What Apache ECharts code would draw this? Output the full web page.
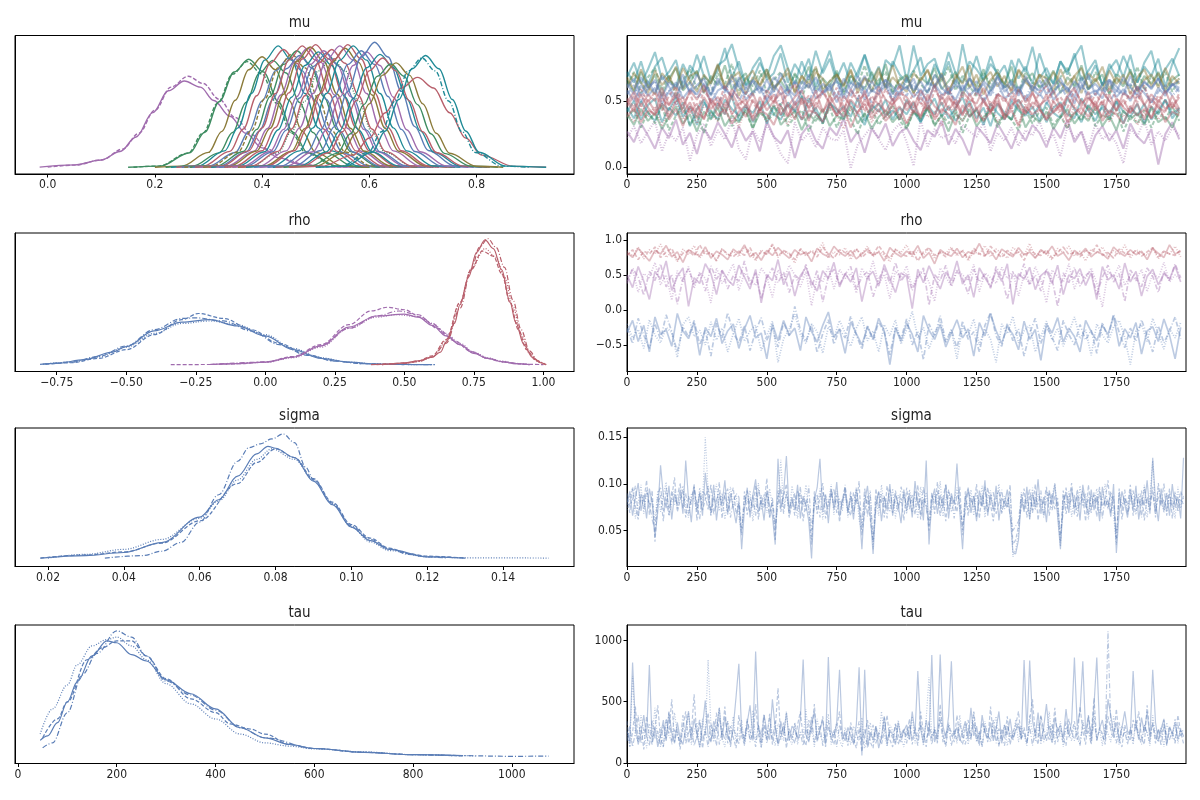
<!DOCTYPE html>
<html>
<head>
<meta charset="utf-8">
<title>trace plot</title>
<script src="https://cdn.jsdelivr.net/npm/echarts@6/dist/echarts.min.js"></script>
<style>
  html, body { margin: 0; padding: 0; background: #fff; }
  #chart { width: 1200px; height: 800px; }
</style>
</head>
<body>
<div id="chart"></div>
<script>
// ---- panel titles / ticks ----
const varNames = ['mu', 'rho', 'sigma', 'tau'];
const drawTicks = [0, 250, 500, 750, 1000, 1250, 1500, 1750];
const muKdeTicks = [0, 0.2, 0.4, 0.6, 0.8];
const rhoKdeTicks = [-0.75, -0.5, -0.25, 0, 0.25, 0.5, 0.75, 1];
const sigmaKdeTicks = [0.02, 0.04, 0.06, 0.08, 0.1, 0.12, 0.14];
const tauKdeTicks = [0, 200, 400, 600, 800, 1000];
const muTraceTicks = [0, 0.5];
const rhoTraceTicks = [-0.5, 0, 0.5, 1];
const sigmaTraceTicks = [0.05, 0.1, 0.15];
const tauTraceTicks = [0, 500, 1000];

// ---- mu: density curves, one per mu[i] ([x, density]) ----
const muKdeCurves = [
  [[-0.015,0.02],[0.05,0.2],[0.1,0.6],[0.135,1.3],[0.165,2.5],[0.196,4.5],[0.225,6.3],[0.255,7.1],[0.285,6.6],[0.31,5.5],[0.34,4.2],[0.37,2.8],[0.4,1.6],[0.43,0.8],[0.47,0.25],[0.52,0.05],[0.6,0]],
  [[0,0.02],[0.05,0.18],[0.1,0.6],[0.14,1.5],[0.17,2.8],[0.2,4.7],[0.23,6.6],[0.262,7.5],[0.29,6.9],[0.32,5.6],[0.35,4.1],[0.38,2.7],[0.41,1.5],[0.44,0.7],[0.48,0.2],[0.54,0.03],[0.6,0]],
  [[0.15,0],[0.21,0.1],[0.265,1.2],[0.293,2.89],[0.32,5.4],[0.348,7.85],[0.375,8.9],[0.403,7.85],[0.43,5.4],[0.458,2.89],[0.485,1.2],[0.54,0.1],[0.6,0]],
  [[0.16,0],[0.207,0.1],[0.262,1.17],[0.29,2.83],[0.317,5.28],[0.345,7.67],[0.372,8.7],[0.4,7.67],[0.427,5.28],[0.455,2.83],[0.482,1.17],[0.537,0.1],[0.6,0]],
  [[0.2,0],[0.25,0.1],[0.3,1.23],[0.325,2.96],[0.35,5.52],[0.375,8.03],[0.4,9.1],[0.425,8.03],[0.45,5.52],[0.475,2.96],[0.5,1.23],[0.55,0.1],[0.6,0]],
  [[0.22,0],[0.27,0.1],[0.32,1.19],[0.345,2.86],[0.37,5.34],[0.395,7.76],[0.42,8.8],[0.445,7.76],[0.47,5.34],[0.495,2.86],[0.52,1.19],[0.57,0.1],[0.62,0]],
  [[0.23,0],[0.28,0.11],[0.33,1.35],[0.355,3.25],[0.38,6.07],[0.405,8.82],[0.43,10],[0.455,8.82],[0.48,6.07],[0.505,3.25],[0.53,1.35],[0.58,0.11],[0.63,0]],
  [[0.24,0],[0.29,0.11],[0.34,1.31],[0.365,3.15],[0.39,5.89],[0.415,8.56],[0.44,9.7],[0.465,8.56],[0.49,5.89],[0.515,3.15],[0.54,1.31],[0.59,0.11],[0.64,0]],
  [[0.25,0],[0.3,0.1],[0.35,1.22],[0.375,2.93],[0.4,5.46],[0.425,7.94],[0.45,9],[0.475,7.94],[0.5,5.46],[0.525,2.93],[0.55,1.22],[0.6,0.1],[0.65,0]],
  [[0.255,0],[0.305,0.1],[0.355,1.26],[0.38,3.02],[0.405,5.65],[0.43,8.2],[0.455,9.3],[0.48,8.2],[0.505,5.65],[0.53,3.02],[0.555,1.26],[0.605,0.1],[0.655,0]],
  [[0.265,0],[0.315,0.11],[0.365,1.3],[0.39,3.12],[0.415,5.83],[0.44,8.47],[0.465,9.6],[0.49,8.47],[0.515,5.83],[0.54,3.12],[0.565,1.3],[0.615,0.11],[0.665,0]],
  [[0.27,0],[0.32,0.1],[0.37,1.24],[0.395,2.99],[0.42,5.58],[0.445,8.11],[0.47,9.2],[0.495,8.11],[0.52,5.58],[0.545,2.99],[0.57,1.24],[0.62,0.1],[0.67,0]],
  [[0.275,0],[0.325,0.11],[0.375,1.35],[0.4,3.25],[0.425,6.07],[0.45,8.82],[0.475,10],[0.5,8.82],[0.525,6.07],[0.55,3.25],[0.575,1.35],[0.625,0.11],[0.675,0]],
  [[0.285,0],[0.335,0.11],[0.385,1.32],[0.41,3.19],[0.435,5.95],[0.46,8.64],[0.485,9.8],[0.51,8.64],[0.535,5.95],[0.56,3.19],[0.585,1.32],[0.635,0.11],[0.685,0]],
  [[0.29,0],[0.34,0.11],[0.39,1.34],[0.415,3.22],[0.44,6.01],[0.465,8.73],[0.49,9.9],[0.515,8.73],[0.54,6.01],[0.565,3.22],[0.59,1.34],[0.64,0.11],[0.69,0]],
  [[0.3,0],[0.35,0.11],[0.4,1.36],[0.425,3.28],[0.45,6.13],[0.475,8.91],[0.5,10.1],[0.525,8.91],[0.55,6.13],[0.575,3.28],[0.6,1.36],[0.65,0.11],[0.7,0]],
  [[0.305,0],[0.355,0.1],[0.405,1.28],[0.43,3.09],[0.455,5.77],[0.48,8.38],[0.505,9.5],[0.53,8.38],[0.555,5.77],[0.58,3.09],[0.605,1.28],[0.655,0.1],[0.705,0]],
  [[0.315,0],[0.365,0.11],[0.415,1.3],[0.44,3.12],[0.465,5.83],[0.49,8.47],[0.515,9.6],[0.54,8.47],[0.565,5.83],[0.59,3.12],[0.615,1.3],[0.665,0.11],[0.715,0]],
  [[0.32,0],[0.37,0.1],[0.42,1.27],[0.445,3.06],[0.47,5.71],[0.495,8.29],[0.52,9.4],[0.545,8.29],[0.57,5.71],[0.595,3.06],[0.62,1.27],[0.67,0.1],[0.72,0]],
  [[0.33,0],[0.38,0.1],[0.43,1.22],[0.455,2.93],[0.48,5.46],[0.505,7.94],[0.53,9],[0.555,7.94],[0.58,5.46],[0.605,2.93],[0.63,1.22],[0.68,0.1],[0.73,0]],
  [[0.33,0],[0.38,0.11],[0.43,1.31],[0.455,3.15],[0.48,5.89],[0.505,8.56],[0.53,9.7],[0.555,8.56],[0.58,5.89],[0.605,3.15],[0.63,1.31],[0.68,0.11],[0.73,0]],
  [[0.345,0],[0.395,0.11],[0.445,1.35],[0.47,3.25],[0.495,6.07],[0.52,8.82],[0.545,10],[0.57,8.82],[0.595,6.07],[0.62,3.25],[0.645,1.35],[0.695,0.11],[0.745,0]],
  [[0.355,0],[0.405,0.11],[0.455,1.32],[0.48,3.19],[0.505,5.95],[0.53,8.64],[0.555,9.8],[0.58,8.64],[0.605,5.95],[0.63,3.19],[0.655,1.32],[0.705,0.11],[0.755,0]],
  [[0.36,0],[0.41,0.11],[0.46,1.36],[0.485,3.28],[0.51,6.13],[0.535,8.91],[0.56,10.1],[0.585,8.91],[0.61,6.13],[0.635,3.28],[0.66,1.36],[0.71,0.11],[0.76,0]],
  [[0.37,0],[0.42,0.11],[0.47,1.35],[0.495,3.25],[0.52,6.07],[0.545,8.82],[0.57,10],[0.595,8.82],[0.62,6.07],[0.645,3.25],[0.67,1.35],[0.72,0.11],[0.77,0]],
  [[0.385,0],[0.435,0.11],[0.485,1.3],[0.51,3.12],[0.535,5.83],[0.56,8.47],[0.585,9.6],[0.61,8.47],[0.635,5.83],[0.66,3.12],[0.685,1.3],[0.735,0.11],[0.785,0]],
  [[0.395,0],[0.445,0.1],[0.495,1.28],[0.52,3.09],[0.545,5.77],[0.57,8.38],[0.595,9.5],[0.62,8.38],[0.645,5.77],[0.67,3.09],[0.695,1.28],[0.745,0.1],[0.795,0]],
  [[0.41,0],[0.46,0.11],[0.51,1.39],[0.535,3.35],[0.56,6.25],[0.585,9.08],[0.61,10.3],[0.635,9.08],[0.66,6.25],[0.685,3.35],[0.71,1.39],[0.76,0.11],[0.81,0]],
  [[0.42,0],[0.47,0.1],[0.52,1.26],[0.545,3.02],[0.57,5.65],[0.595,8.2],[0.62,9.3],[0.645,8.2],[0.67,5.65],[0.695,3.02],[0.72,1.26],[0.77,0.1],[0.82,0]],
  [[0.425,0],[0.475,0.1],[0.525,1.22],[0.55,2.93],[0.575,5.46],[0.6,7.94],[0.625,9],[0.65,7.94],[0.675,5.46],[0.7,2.93],[0.725,1.22],[0.775,0.1],[0.825,0]],
  [[0.44,0],[0.49,0.09],[0.54,1.15],[0.565,2.76],[0.59,5.16],[0.615,7.5],[0.64,8.5],[0.665,7.5],[0.69,5.16],[0.715,2.76],[0.74,1.15],[0.79,0.09],[0.84,0]],
  [[0.45,0],[0.5,0.09],[0.55,1.16],[0.575,2.8],[0.6,5.22],[0.625,7.59],[0.65,8.6],[0.675,7.59],[0.7,5.22],[0.725,2.8],[0.75,1.16],[0.8,0.09],[0.85,0]],
  [[0.45,0],[0.51,0.08],[0.57,1.0],[0.6,2.41],[0.63,4.49],[0.66,6.53],[0.69,7.4],[0.72,6.53],[0.75,4.49],[0.78,2.41],[0.81,1.0],[0.87,0.08],[0.93,0]],
  [[0.5,0],[0.548,0.1],[0.598,1.22],[0.623,2.93],[0.648,5.46],[0.673,7.94],[0.698,9],[0.723,7.94],[0.748,5.46],[0.773,2.93],[0.798,1.22],[0.848,0.1],[0.9,0]],
  [[0.505,0],[0.555,0.1],[0.605,1.24],[0.63,2.99],[0.655,5.58],[0.68,8.11],[0.705,9.2],[0.73,8.11],[0.755,5.58],[0.78,2.99],[0.805,1.24],[0.855,0.1],[0.93,0]]
];
const muKdeColors = ['purple','purple','green','green','olive','green','teal','red','blue','olive','green','blue','red','purple','olive','red','teal','purple','blue','green','red','purple','olive','red','teal','blue','purple','blue','teal','red','green','olive','red','teal','teal'];
const muKdeStyles = ['solid','dashed','solid','dashed','solid','solid','solid','solid','solid','dashed','solid','solid','solid','solid','solid','solid','solid','solid','solid','dotted','solid','solid','solid','solid','solid','solid','solid','solid','solid','solid','solid','solid','solid','dashdot','solid'];

// ---- mu: sampled draws, first and second chain of each mu[i] (every 25th draw) ----
const muTrace = [
  [0.22,0.31,0.18,0.27,0.35,0.12,0.26,0.2,0.3,0.05,0.24,0.33,0.16,0.28,0.21,0.37,0.14,0.06,0.29,0.19,
   0.32,0.23,0.1,0.03,0.34,0.2,0.26,0.15,0.3,0.22,0.2,0.28,-0.01,0.17,0.24,0.31,0.21,0.13,0.27,0.33,
   0.19,0.01,0.36,0.15,0.29,0.22,0.25,0.18,0.32,0.27,0.23,0.34,0.12,0.26,0.2,0.3,0.16,0.28,0.24,0.35,
   0.19,0.25,0.08,0.31,0.22,0.27,0.14,0.33,0.21,0.26,0.18,0.03,0.29,0.23,0.36,0.17,0.27,0.2,0.3,0.24],
  [0.72,0.64,0.8,0.62,0.76,0.83,0.66,0.61,0.78,0.67,0.85,0.69,0.63,0.77,0.81,0.93,0.74,0.62,0.66,0.79,
   0.68,0.84,0.92,0.75,0.63,0.8,0.66,0.88,0.71,0.82,0.64,0.62,0.79,0.68,0.85,0.65,0.76,0.6,0.8,0.7,
   0.64,0.92,0.69,0.78,0.82,0.66,0.8,0.62,0.93,0.68,0.84,0.65,0.78,0.71,0.61,0.81,0.67,0.76,0.63,0.86,
   0.7,0.63,0.8,0.72,0.83,0.92,0.66,0.77,0.62,0.74,0.81,0.68,0.85,0.64,0.76,0.69,0.82,0.61,0.78,0.9],
  [0.62,0.72,0.56,0.68,0.75,0.58,0.7,0.53,0.66,0.74,0.59,0.69,0.55,0.71,0.63,0.78,0.58,0.68,0.61,0.73,
   0.56,0.66,0.72,0.6,0.7,0.52,0.68,0.75,0.59,0.65,0.71,0.57,0.69,0.62,0.77,0.58,0.66,0.72,0.55,0.68,
   0.6,0.73,0.63,0.56,0.7,0.64,0.76,0.58,0.69,0.61,0.54,0.71,0.63,0.74,0.59,0.67,0.57,0.72,0.64,0.61,
   0.7,0.55,0.68,0.75,0.6,0.69,0.58,0.72,0.63,0.56,0.71,0.65,0.6,0.76,0.58,0.69,0.62,0.72,0.57,0.67],
  [0.68,0.58,0.74,0.61,0.55,0.71,0.64,0.76,0.59,0.69,0.72,0.57,0.65,0.78,0.6,0.7,0.54,0.67,0.73,0.61,
   0.71,0.58,0.66,0.75,0.56,0.69,0.6,0.72,0.67,0.53,0.7,0.62,0.74,0.59,0.68,0.57,0.72,0.61,0.77,0.6,
   0.69,0.56,0.66,0.73,0.61,0.71,0.58,0.67,0.76,0.6,0.7,0.55,0.66,0.72,0.63,0.59,0.74,0.67,0.57,0.7,
   0.61,0.72,0.64,0.56,0.69,0.75,0.6,0.67,0.58,0.73,0.63,0.7,0.55,0.68,0.74,0.61,0.71,0.59,0.69,0.63],
  [0.6,0.67,0.54,0.65,0.56,0.69,0.61,0.52,0.66,0.57,0.7,0.62,0.55,0.67,0.59,0.53,0.68,0.6,0.65,0.56,
   0.66,0.57,0.71,0.59,0.54,0.65,0.6,0.68,0.56,0.63,0.53,0.67,0.59,0.69,0.55,0.65,0.57,0.66,0.61,0.54,
   0.68,0.58,0.65,0.56,0.7,0.6,0.55,0.66,0.58,0.67,0.57,0.63,0.54,0.68,0.6,0.65,0.56,0.69,0.58,0.66,
   0.55,0.62,0.67,0.57,0.65,0.59,0.7,0.54,0.63,0.66,0.57,0.68,0.6,0.55,0.65,0.59,0.67,0.56,0.63,0.6],
  [0.55,0.62,0.49,0.6,0.65,0.51,0.58,0.47,0.61,0.64,0.52,0.58,0.62,0.48,0.57,0.66,0.5,0.6,0.54,0.63,
   0.51,0.58,0.46,0.61,0.64,0.54,0.49,0.62,0.55,0.6,0.65,0.5,0.58,0.52,0.62,0.48,0.57,0.63,0.51,0.6,
   0.54,0.64,0.49,0.58,0.61,0.52,0.62,0.47,0.57,0.6,0.65,0.51,0.58,0.54,0.62,0.5,0.6,0.52,0.63,0.56,
   0.48,0.58,0.62,0.52,0.6,0.64,0.51,0.57,0.61,0.49,0.58,0.54,0.63,0.52,0.6,0.48,0.57,0.62,0.54,0.6],
  [0.42,0.5,0.36,0.47,0.52,0.34,0.45,0.39,0.49,0.31,0.44,0.51,0.37,0.48,0.4,0.54,0.35,0.45,0.41,0.5,
   0.33,0.46,0.39,0.49,0.43,0.36,0.52,0.41,0.34,0.48,0.44,0.37,0.5,0.4,0.32,0.47,0.42,0.51,0.36,0.45,
   0.4,0.49,0.34,0.44,0.52,0.38,0.46,0.35,0.42,0.5,0.37,0.45,0.31,0.48,0.41,0.36,0.51,0.43,0.38,0.47,
   0.34,0.45,0.49,0.4,0.37,0.52,0.43,0.35,0.47,0.41,0.5,0.33,0.45,0.39,0.48,0.36,0.43,0.51,0.4,0.45],
  [0.37,0.44,0.3,0.42,0.33,0.47,0.28,0.39,0.45,0.32,0.4,0.26,0.43,0.35,0.46,0.31,0.39,0.42,0.29,0.44,
   0.35,0.4,0.48,0.31,0.38,0.43,0.27,0.39,0.33,0.45,0.3,0.42,0.36,0.25,0.4,0.44,0.32,0.39,0.47,0.35,
   0.29,0.42,0.36,0.45,0.31,0.4,0.33,0.44,0.26,0.39,0.43,0.34,0.46,0.3,0.4,0.36,0.28,0.43,0.33,0.42,
   0.45,0.32,0.39,0.29,0.42,0.35,0.47,0.31,0.4,0.36,0.44,0.27,0.39,0.33,0.43,0.3,0.42,0.36,0.46,0.35],
  [0.46,0.54,0.39,0.51,0.42,0.57,0.38,0.5,0.53,0.41,0.48,0.36,0.52,0.44,0.55,0.4,0.48,0.51,0.37,0.53,
   0.43,0.5,0.56,0.39,0.47,0.52,0.35,0.49,0.41,0.54,0.44,0.38,0.51,0.45,0.58,0.4,0.48,0.42,0.52,0.36,
   0.5,0.41,0.53,0.45,0.38,0.55,0.43,0.51,0.4,0.48,0.34,0.52,0.42,0.5,0.39,0.54,0.45,0.41,0.57,0.44,
   0.37,0.5,0.42,0.53,0.45,0.4,0.52,0.47,0.38,0.55,0.43,0.51,0.41,0.48,0.36,0.52,0.45,0.42,0.54,0.44],
  [0.52,0.45,0.59,0.49,0.57,0.43,0.54,0.61,0.47,0.56,0.42,0.58,0.5,0.46,0.62,0.52,0.44,0.57,0.49,0.41,
   0.59,0.5,0.46,0.56,0.63,0.47,0.54,0.44,0.58,0.49,0.6,0.45,0.52,0.57,0.42,0.54,0.47,0.59,0.5,0.62,
   0.46,0.56,0.49,0.43,0.58,0.51,0.6,0.45,0.54,0.47,0.57,0.5,0.4,0.56,0.49,0.59,0.46,0.54,0.44,0.57,
   0.61,0.49,0.53,0.45,0.58,0.5,0.43,0.56,0.47,0.6,0.52,0.46,0.57,0.49,0.62,0.45,0.54,0.5,0.44,0.56],
  [0.41,0.34,0.48,0.38,0.46,0.31,0.43,0.5,0.36,0.45,0.33,0.47,0.4,0.35,0.49,0.41,0.3,0.46,0.38,0.43,
   0.34,0.48,0.4,0.32,0.45,0.37,0.51,0.41,0.35,0.47,0.4,0.29,0.44,0.38,0.48,0.34,0.43,0.37,0.46,0.4,
   0.33,0.45,0.49,0.38,0.42,0.31,0.47,0.4,0.35,0.46,0.42,0.36,0.5,0.34,0.41,0.45,0.32,0.48,0.38,0.43,
   0.35,0.46,0.4,0.3,0.47,0.41,0.36,0.44,0.49,0.34,0.43,0.38,0.47,0.32,0.41,0.46,0.36,0.43,0.48,0.4]
];
const muTrace2 = [
  [0.27,0.19,0.33,0.24,0.14,0.3,0.22,0.36,0.17,0.26,0.1,0.29,0.21,0.34,0.25,0.15,0.31,0.2,0.27,0.12,
   0.35,0.23,0.18,0.28,0.07,0.25,0.32,0.2,0.14,0.3,0.24,0.37,0.19,0.27,0.11,0.29,0.22,0.33,0.16,0.26,
   0.3,0.2,0.13,0.28,0.23,0.35,0.17,0.29,0.21,0.09,0.31,0.25,0.18,0.33,0.24,0.14,0.28,0.2,0.32,0.26,
   0.15,0.3,0.22,0.36,0.19,0.27,0.1,0.24,0.31,0.2,0.28,0.14,0.33,0.23,0.18,0.29,0.02,0.25,0.34,0.21],
  [0.68,0.79,0.63,0.74,0.87,0.66,0.72,0.81,0.6,0.77,0.69,0.84,0.65,0.73,0.9,0.68,0.8,0.62,0.75,0.83,
   0.66,0.71,0.86,0.64,0.78,0.69,0.82,0.61,0.74,0.88,0.67,0.79,0.63,0.72,0.85,0.7,0.6,0.81,0.76,0.92,
   0.65,0.73,0.83,0.62,0.78,0.68,0.87,0.71,0.64,0.8,0.74,0.66,0.84,0.69,0.77,0.62,0.82,0.72,0.91,0.67,
   0.75,0.63,0.8,0.7,0.86,0.65,0.73,0.81,0.61,0.78,0.68,0.84,0.72,0.64,0.79,0.88,0.66,0.74,0.82,0.69],
  [0.66,0.57,0.72,0.6,0.7,0.54,0.67,0.75,0.58,0.64,0.73,0.56,0.69,0.62,0.77,0.59,0.66,0.71,0.55,0.68,
   0.74,0.6,0.65,0.57,0.71,0.63,0.76,0.58,0.67,0.61,0.73,0.55,0.69,0.64,0.59,0.72,0.62,0.78,0.57,0.66,
   0.7,0.56,0.68,0.63,0.75,0.59,0.65,0.72,0.54,0.67,0.61,0.74,0.58,0.69,0.63,0.76,0.57,0.66,0.71,0.6,
   0.64,0.73,0.56,0.68,0.62,0.77,0.59,0.65,0.7,0.55,0.67,0.61,0.74,0.58,0.69,0.63,0.72,0.57,0.66,0.7],
  [0.6,0.71,0.64,0.56,0.73,0.62,0.69,0.58,0.75,0.65,0.57,0.7,0.63,0.77,0.59,0.67,0.72,0.55,0.68,0.62,
   0.74,0.6,0.66,0.71,0.57,0.69,0.63,0.76,0.58,0.65,0.7,0.61,0.73,0.56,0.67,0.64,0.75,0.59,0.68,0.62,
   0.57,0.71,0.65,0.74,0.6,0.68,0.55,0.7,0.63,0.77,0.58,0.66,0.72,0.61,0.69,0.56,0.73,0.64,0.6,0.7,
   0.67,0.58,0.74,0.62,0.69,0.56,0.71,0.65,0.76,0.59,0.68,0.63,0.72,0.57,0.66,0.7,0.6,0.75,0.62,0.67],
  [0.63,0.55,0.68,0.59,0.66,0.53,0.64,0.6,0.7,0.56,0.62,0.67,0.54,0.65,0.58,0.69,0.61,0.55,0.66,0.6,
   0.57,0.68,0.62,0.54,0.65,0.59,0.7,0.56,0.63,0.58,0.67,0.53,0.64,0.6,0.69,0.57,0.62,0.66,0.55,0.63,
   0.59,0.67,0.54,0.64,0.61,0.7,0.56,0.62,0.58,0.68,0.55,0.65,0.6,0.69,0.57,0.63,0.54,0.66,0.61,0.58,
   0.67,0.56,0.64,0.6,0.53,0.68,0.59,0.63,0.57,0.66,0.61,0.55,0.69,0.58,0.64,0.6,0.67,0.56,0.62,0.65],
  [0.58,0.5,0.62,0.54,0.6,0.48,0.57,0.64,0.52,0.59,0.55,0.63,0.49,0.58,0.61,0.53,0.65,0.51,0.57,0.6,
   0.5,0.62,0.55,0.59,0.47,0.58,0.63,0.52,0.56,0.61,0.49,0.6,0.54,0.64,0.51,0.58,0.55,0.62,0.5,0.57,
   0.61,0.53,0.59,0.48,0.63,0.55,0.57,0.51,0.62,0.54,0.6,0.49,0.58,0.64,0.52,0.56,0.61,0.5,0.59,0.54,
   0.63,0.51,0.57,0.6,0.48,0.62,0.55,0.58,0.52,0.65,0.53,0.59,0.5,0.61,0.56,0.49,0.6,0.54,0.63,0.57],
  [0.45,0.37,0.5,0.41,0.35,0.48,0.43,0.53,0.38,0.46,0.32,0.49,0.42,0.36,0.51,0.44,0.39,0.47,0.34,0.45,
   0.5,0.4,0.36,0.47,0.42,0.54,0.37,0.45,0.33,0.49,0.41,0.46,0.38,0.52,0.35,0.44,0.48,0.39,0.43,0.36,
   0.51,0.42,0.34,0.47,0.4,0.49,0.37,0.45,0.53,0.38,0.44,0.32,0.48,0.41,0.36,0.5,0.43,0.39,0.46,0.35,
   0.49,0.41,0.37,0.52,0.44,0.34,0.47,0.4,0.45,0.36,0.5,0.42,0.38,0.48,0.33,0.46,0.4,0.51,0.37,0.44],
  [0.4,0.32,0.44,0.35,0.41,0.29,0.38,0.46,0.33,0.4,0.27,0.42,0.36,0.45,0.31,0.39,0.34,0.43,0.3,0.41,
   0.37,0.47,0.32,0.38,0.42,0.28,0.4,0.35,0.44,0.31,0.39,0.36,0.46,0.33,0.41,0.29,0.38,0.43,0.34,0.4,
   0.3,0.42,0.37,0.45,0.32,0.39,0.27,0.41,0.35,0.44,0.31,0.38,0.43,0.33,0.4,0.36,0.47,0.3,0.39,0.34,
   0.42,0.29,0.38,0.44,0.33,0.4,0.35,0.46,0.31,0.39,0.28,0.43,0.36,0.41,0.32,0.45,0.34,0.38,0.3,0.42],
  [0.5,0.42,0.55,0.45,0.39,0.52,0.47,0.57,0.41,0.49,0.37,0.53,0.44,0.5,0.4,0.56,0.46,0.38,0.51,0.43,
   0.48,0.55,0.4,0.47,0.36,0.52,0.45,0.58,0.42,0.49,0.39,0.54,0.46,0.41,0.51,0.44,0.57,0.38,0.48,0.53,
   0.43,0.5,0.37,0.55,0.46,0.41,0.52,0.48,0.39,0.56,0.44,0.5,0.42,0.54,0.36,0.47,0.51,0.4,0.49,0.45,
   0.55,0.41,0.48,0.38,0.53,0.46,0.57,0.43,0.5,0.39,0.52,0.45,0.41,0.55,0.47,0.37,0.51,0.44,0.49,0.42],
  [0.49,0.57,0.46,0.55,0.5,0.6,0.47,0.54,0.44,0.58,0.51,0.62,0.48,0.53,0.45,0.59,0.52,0.47,0.56,0.43,
   0.55,0.49,0.61,0.46,0.53,0.58,0.44,0.52,0.57,0.48,0.54,0.42,0.59,0.5,0.55,0.46,0.61,0.51,0.47,0.56,
   0.53,0.45,0.58,0.5,0.62,0.47,0.54,0.43,0.57,0.51,0.48,0.6,0.46,0.55,0.52,0.44,0.59,0.49,0.56,0.47,
   0.51,0.58,0.45,0.54,0.6,0.48,0.53,0.46,0.57,0.5,0.43,0.56,0.52,0.61,0.47,0.55,0.49,0.58,0.45,0.53],
  [0.38,0.45,0.34,0.43,0.4,0.48,0.36,0.44,0.31,0.46,0.41,0.37,0.49,0.39,0.44,0.33,0.42,0.47,0.35,0.43,
   0.4,0.32,0.46,0.38,0.5,0.36,0.43,0.41,0.34,0.47,0.39,0.45,0.3,0.42,0.48,0.37,0.44,0.35,0.41,0.46,
   0.33,0.43,0.39,0.49,0.36,0.44,0.4,0.32,0.47,0.38,0.45,0.35,0.42,0.48,0.37,0.43,0.31,0.46,0.4,0.44,
   0.36,0.42,0.47,0.34,0.41,0.45,0.38,0.5,0.35,0.43,0.4,0.33,0.46,0.39,0.44,0.37,0.48,0.34,0.42,0.39]
];
const muTraceColors = ['purple','teal','green','olive','blue','blue','teal','green','red','red','red'];
const muTraceStyles = ['dotted','solid','dashed','solid','solid','dashdot','solid','dashed','solid','dashed','dotted'];

// ---- rho: densities per chain (blue = rho[0], purple = rho[1], red = rho[2]) ----
const rhoKdeCurves = [
  [[-0.81,0.02],[-0.75,0.1],[-0.65,0.4],[-0.55,1.0],[-0.5,1.45],[-0.4,2.7],[-0.3,3.4],[-0.2,3.6],[-0.1,3.1],[0,2.3],[0.1,1.2],[0.2,0.5],[0.3,0.2],[0.4,0.05],[0.5,0.01],[0.6,0]],
  [[-0.79,0.02],[-0.7,0.15],[-0.6,0.5],[-0.5,1.2],[-0.4,2.4],[-0.3,3.6],[-0.24,4.1],[-0.15,3.7],[-0.05,2.8],[0.05,1.7],[0.15,0.8],[0.25,0.3],[0.35,0.08],[0.45,0.02],[0.5,0]],
  [[-0.8,0.03],[-0.7,0.2],[-0.6,0.6],[-0.5,1.4],[-0.4,2.5],[-0.3,3.3],[-0.2,3.5],[-0.1,3.2],[0,2.4],[0.1,1.3],[0.2,0.55],[0.3,0.2],[0.4,0.06],[0.5,0.01],[0.55,0]],
  [[-0.8,0.03],[-0.7,0.2],[-0.6,0.65],[-0.5,1.5],[-0.4,2.8],[-0.3,3.7],[-0.25,3.75],[-0.15,3.5],[-0.05,2.7],[0.05,1.6],[0.15,0.75],[0.25,0.28],[0.35,0.08],[0.45,0.02],[0.61,0]],
  [[-0.2,0.01],[-0.1,0.08],[0,0.2],[0.1,0.6],[0.2,1.5],[0.3,3.0],[0.4,3.9],[0.5,4.05],[0.55,3.8],[0.6,3.15],[0.65,2.3],[0.7,1.6],[0.75,0.9],[0.8,0.5],[0.85,0.25],[0.9,0.08],[0.95,0]],
  [[-0.34,0],[-0.2,0.01],[-0.1,0.07],[0,0.22],[0.1,0.65],[0.2,1.6],[0.3,3.2],[0.38,4.3],[0.44,4.6],[0.5,4.4],[0.56,3.8],[0.62,2.9],[0.68,1.9],[0.74,1.05],[0.8,0.5],[0.86,0.2],[0.93,0.03],[1.0,0]],
  [[-0.15,0.01],[0,0.18],[0.1,0.55],[0.2,1.4],[0.3,2.9],[0.4,3.8],[0.47,4.0],[0.55,3.85],[0.6,3.3],[0.65,2.5],[0.7,1.7],[0.75,1.0],[0.8,0.55],[0.85,0.28],[0.9,0.1],[0.95,0]],
  [[-0.2,0.01],[0,0.2],[0.1,0.6],[0.2,1.5],[0.3,2.9],[0.4,3.9],[0.48,4.3],[0.55,4.0],[0.6,3.3],[0.65,2.4],[0.7,1.6],[0.75,0.95],[0.8,0.5],[0.85,0.22],[0.9,0.07],[0.95,0]],
  [[0.38,0],[0.45,0.05],[0.5,0.15],[0.55,0.3],[0.6,0.6],[0.63,1.0],[0.65,1.8],[0.68,3.3],[0.7,4.8],[0.73,7.0],[0.76,9.0],[0.79,10],[0.82,9.3],[0.85,7.6],[0.88,5.0],[0.9,3.4],[0.93,1.6],[0.96,0.6],[0.99,0.15],[1.01,0]],
  [[0.4,0],[0.5,0.12],[0.55,0.3],[0.6,0.7],[0.65,2.0],[0.7,5.0],[0.74,7.6],[0.78,9.1],[0.82,8.7],[0.85,7.3],[0.88,5.0],[0.91,2.8],[0.94,1.2],[0.97,0.4],[1.0,0.05],[1.01,0]],
  [[0.42,0],[0.5,0.1],[0.55,0.25],[0.6,0.6],[0.65,1.9],[0.7,4.9],[0.74,7.7],[0.79,9.3],[0.83,8.6],[0.86,7.0],[0.89,4.7],[0.92,2.4],[0.95,0.9],[0.98,0.25],[1.01,0]],
  [[0.42,0],[0.5,0.1],[0.55,0.25],[0.6,0.6],[0.65,1.7],[0.7,4.5],[0.74,7.6],[0.77,9.4],[0.8,10.1],[0.83,9.4],[0.86,7.8],[0.89,5.2],[0.92,2.8],[0.95,1.1],[0.98,0.3],[1.0,0.05]]
];
const rhoKdeColors = ['blue','blue','blue','blue','purple','purple','purple','purple','red','red','red','red'];
const rhoKdeStyles = ['solid','dashed','dotted','dashdot','solid','dashed','dotted','dashdot','solid','dashed','dotted','dashdot'];

// ---- rho: sampled draws (every 20th draw) ----
const rhoTrace = [
  [-0.32,-0.15,-0.45,-0.22,-0.6,-0.1,-0.35,-0.28,-0.52,-0.05,-0.3,-0.41,-0.18,-0.65,-0.25,-0.38,-0.12,-0.48,-0.3,-0.2,
   -0.55,-0.27,-0.08,-0.4,-0.33,-0.7,-0.2,-0.44,-0.15,-0.36,-0.26,-0.58,-0.1,-0.31,-0.46,-0.22,-0.03,-0.39,-0.28,-0.62,
   -0.17,-0.34,-0.5,-0.24,-0.41,-0.12,-0.3,-0.78,-0.26,-0.45,-0.19,-0.35,-0.6,-0.08,-0.29,-0.42,-0.21,-0.53,-0.33,-0.14,
   -0.4,-0.27,-0.66,-0.18,-0.37,-0.05,-0.3,-0.48,-0.23,-0.35,-0.57,-0.16,-0.42,-0.28,-0.72,-0.2,-0.33,-0.11,-0.46,-0.26,
   -0.38,-0.6,-0.15,-0.31,-0.44,-0.22,-0.35,-0.09,-0.52,-0.27,-0.4,-0.18,-0.63,-0.3,-0.24,-0.45,-0.13,-0.36,-0.7,-0.25],
  [-0.2,-0.4,-0.28,-0.55,-0.14,-0.36,-0.47,-0.25,-0.32,-0.68,-0.21,-0.1,-0.38,-0.29,-0.5,-0.17,-0.43,-0.26,-0.6,-0.34,
   -0.12,-0.45,-0.3,-0.22,-0.58,-0.37,-0.16,-0.75,-0.41,-0.27,-0.06,-0.35,-0.48,-0.2,-0.31,-0.62,-0.24,-0.4,-0.15,-0.33,
   -0.52,-0.26,-0.1,-0.44,-0.3,-0.6,-0.21,-0.37,-0.14,-0.49,-0.28,-0.02,-0.4,-0.25,-0.55,-0.33,-0.18,-0.46,-0.29,-0.7,
   -0.23,-0.36,-0.13,-0.5,-0.27,-0.42,-0.75,-0.2,-0.34,-0.09,-0.47,-0.3,-0.22,-0.6,-0.38,-0.16,-0.43,-0.26,-0.52,-0.32,
   -0.1,-0.41,-0.28,-0.65,-0.2,-0.36,-0.47,-0.24,-0.15,-0.39,-0.78,-0.3,-0.21,-0.45,-0.12,-0.34,-0.56,-0.27,-0.4,-0.18],
  [-0.26,-0.48,-0.12,-0.36,-0.55,-0.2,-0.42,-0.07,-0.31,-0.6,-0.24,-0.38,-0.15,-0.5,-0.29,-0.66,-0.19,-0.4,-0.04,-0.33,
   -0.47,-0.22,-0.58,-0.3,-0.11,-0.43,-0.26,-0.53,-0.18,-0.37,0.05,-0.29,-0.45,-0.21,-0.61,-0.34,-0.14,-0.49,-0.27,-0.4,
   -0.09,-0.36,-0.56,-0.23,-0.44,-0.17,-0.32,-0.64,-0.25,-0.41,-0.13,-0.5,-0.3,-0.71,-0.2,-0.38,-0.08,-0.46,-0.28,-0.55,
   -0.16,-0.42,-0.31,-0.6,-0.22,-0.04,-0.37,-0.52,-0.19,-0.44,-0.27,-0.66,-0.33,-0.12,-0.48,-0.24,-0.39,-0.58,-0.15,-0.35,
   -0.5,-0.21,-0.43,-0.29,-0.62,-0.18,-0.4,-0.06,-0.32,-0.54,-0.26,-0.45,-0.14,-0.37,-0.6,-0.23,-0.47,-0.3,-0.1,-0.41],
  [0.5,0.32,0.62,0.41,0.15,0.55,0.44,0.7,0.28,0.48,0.6,0.05,0.46,0.38,0.66,0.52,0.22,0.57,0.43,0.35,
   0.64,0.47,0.3,0.58,0.1,0.5,0.42,0.72,0.36,0.55,0.2,0.49,0.61,0.4,0.27,0.56,0.45,0.68,0.33,0.52,
   0.4,0.6,0.12,0.47,0.55,0.34,0.65,0.44,0.25,0.53,0.48,0.02,0.58,0.39,0.63,0.45,0.3,0.54,0.42,0.7,
   0.37,0.5,0.18,0.6,0.46,0.33,0.57,0.41,0.66,0.08,0.52,0.44,0.61,0.29,0.49,0.56,0.38,0.64,0.22,0.5,
   0.45,0.59,0.35,0.53,0.15,0.62,0.43,0.5,0.3,0.67,0.4,0.55,0.2,0.48,0.58,0.36,0.52,0.44,0.63,0.4],
  [0.42,0.58,0.25,0.52,0.46,0.68,0.36,0.5,0.14,0.56,0.4,0.62,0.31,0.54,0.45,0.1,0.6,0.38,0.5,0.66,
   0.28,0.53,0.44,0.35,0.6,0.48,0.18,0.57,0.42,0.64,0.5,0.33,0.55,0.06,0.47,0.4,0.62,0.3,0.58,0.45,
   0.52,0.24,0.6,0.43,0.7,0.37,0.51,0.16,0.56,0.44,0.63,0.32,0.49,0.55,0.4,0.12,0.6,0.47,0.34,0.58,
   0.5,0.42,0.65,0.26,0.53,0.46,0.38,0.61,0.45,0.55,0.2,0.5,0.36,0.62,0.43,0.1,0.57,0.48,0.4,0.66,
   0.3,0.52,0.45,0.6,0.38,0.04,0.55,0.47,0.64,0.35,0.5,0.42,0.58,0.26,0.53,0.45,0.68,0.4,0.5,0.44],
  [0.38,0.6,0.47,0.21,0.55,0.42,0.66,0.33,0.51,0.08,0.45,0.59,0.37,0.52,0.27,0.63,0.44,0.56,0.3,0.49,
   0.41,0.7,0.35,0.53,0.16,0.46,0.6,0.39,0.54,0.25,0.5,0.43,0.65,0.32,0.57,0.11,0.48,0.58,0.36,0.51,
   0.62,0.3,0.47,0.55,0.19,0.44,0.59,0.38,0.68,0.41,0.53,0.28,0.46,0.6,0.07,0.5,0.42,0.64,0.34,0.55,
   0.45,0.23,0.58,0.4,0.52,0.31,0.62,0.47,0.15,0.54,0.43,0.66,0.36,0.5,0.27,0.59,0.44,0.05,0.53,0.39,
   0.61,0.34,0.49,0.56,0.22,0.47,0.64,0.4,0.52,0.12,0.57,0.45,0.33,0.6,0.48,0.25,0.55,0.42,0.66,0.46],
  [0.82,0.75,0.88,0.79,0.7,0.85,0.8,0.92,0.76,0.83,0.68,0.86,0.81,0.77,0.9,0.74,0.84,0.79,0.72,0.87,
   0.8,0.93,0.76,0.82,0.71,0.85,0.78,0.89,0.81,0.74,0.86,0.79,0.83,0.69,0.88,0.8,0.76,0.91,0.82,0.77,
   0.85,0.73,0.8,0.87,0.78,0.83,0.7,0.89,0.81,0.76,0.84,0.79,0.92,0.74,0.82,0.66,0.86,0.8,0.77,0.88,
   0.75,0.83,0.8,0.95,0.78,0.84,0.72,0.87,0.81,0.76,0.89,0.79,0.83,0.74,0.86,0.8,0.91,0.77,0.82,0.71,
   0.85,0.79,0.88,0.76,0.83,0.8,0.73,0.9,0.82,0.77,0.86,0.79,0.84,0.72,0.88,0.81,0.75,0.93,0.8,0.84],
  [0.78,0.86,0.72,0.84,0.8,0.9,0.75,0.83,0.88,0.71,0.81,0.85,0.77,0.93,0.79,0.82,0.7,0.87,0.8,0.76,
   0.84,0.78,0.89,0.73,0.83,0.8,0.94,0.77,0.85,0.81,0.72,0.87,0.79,0.84,0.76,0.9,0.8,0.74,0.86,0.82,
   0.78,0.88,0.75,0.83,0.79,0.92,0.81,0.74,0.86,0.8,0.77,0.85,0.7,0.83,0.89,0.78,0.82,0.76,0.87,0.8,
   0.84,0.73,0.88,0.8,0.77,0.91,0.82,0.75,0.85,0.79,0.83,0.71,0.87,0.8,0.78,0.86,0.74,0.82,0.9,0.79,
   0.83,0.76,0.85,0.8,0.93,0.78,0.82,0.74,0.87,0.81,0.79,0.85,0.77,0.83,0.89,0.76,0.84,0.8,0.78,0.86],
  [0.84,0.77,0.9,0.73,0.86,0.8,0.94,0.75,0.83,0.69,0.87,0.79,0.92,0.74,0.85,0.81,0.71,0.88,0.78,0.84,
   0.76,0.9,0.82,0.7,0.86,0.79,0.93,0.75,0.84,0.8,0.67,0.88,0.77,0.85,0.82,0.96,0.74,0.83,0.79,0.89,
   0.72,0.86,0.8,0.91,0.76,0.84,0.78,0.69,0.87,0.82,0.93,0.75,0.85,0.79,0.88,0.73,0.83,0.81,0.9,0.77,
   0.86,0.7,0.84,0.79,0.92,0.76,0.87,0.81,0.74,0.89,0.83,0.78,0.95,0.75,0.85,0.8,0.72,0.88,0.82,0.91,
   0.77,0.84,0.7,0.87,0.81,0.9,0.76,0.85,0.79,0.93,0.74,0.86,0.82,0.78,0.89,0.73,0.84,0.8,0.91,0.76]
];
const rhoTraceColors = ['blue','blue','blue','purple','purple','purple','red','red','red'];
const rhoTraceStyles = ['solid','dotted','dashdot','solid','dotted','dashdot','solid','dashed','dotted'];

// ---- sigma ----
const sigmaKdeCurves = [
  [[0.018,0],[0.03,0.2],[0.04,0.45],[0.05,1.25],[0.06,3.3],[0.065,4.7],[0.07,6.6],[0.075,8.4],[0.078,9.0],[0.08,8.85],[0.085,8.1],[0.09,6.2],[0.095,4.3],[0.1,2.5],[0.105,1.4],[0.11,0.7],[0.12,0.1],[0.13,0]],
  [[0.018,0],[0.03,0.25],[0.04,0.5],[0.05,1.2],[0.06,3.0],[0.07,6.0],[0.075,7.7],[0.08,8.8],[0.085,8.1],[0.09,6.4],[0.095,4.5],[0.1,2.7],[0.105,1.6],[0.11,0.8],[0.115,0.35],[0.12,0.15],[0.13,0]],
  [[0.02,0],[0.03,0.3],[0.04,0.7],[0.05,1.5],[0.06,3.2],[0.065,4.6],[0.07,6.3],[0.075,7.95],[0.079,8.8],[0.085,7.95],[0.09,6.3],[0.095,4.4],[0.1,2.5],[0.105,1.3],[0.11,0.6],[0.12,0.1],[0.13,0.02],[0.152,0]],
  [[0.035,0],[0.045,0.2],[0.05,0.55],[0.055,1.25],[0.06,2.9],[0.065,5.1],[0.07,7.8],[0.073,8.9],[0.076,9.2],[0.079,9.6],[0.082,10],[0.085,9.3],[0.088,7.3],[0.09,6.3],[0.095,4.4],[0.1,2.6],[0.105,1.5],[0.11,0.75],[0.115,0.3],[0.12,0.1],[0.125,0]]
];
// every 10th draw, four chains
const sigmaTrace = [
  [0.078,0.092,0.066,0.085,0.101,0.071,0.088,0.063,0.095,0.08,0.043,0.07,0.12,0.087,0.074,0.098,0.062,0.089,0.077,0.094,
   0.068,0.125,0.083,0.059,0.097,0.072,0.091,0.066,0.112,0.084,0.07,0.099,0.061,0.086,0.079,0.104,0.067,0.09,0.075,0.058,
   0.082,0.03,0.073,0.096,0.064,0.088,0.105,0.07,0.083,0.061,0.093,0.077,0.066,0.035,0.127,0.074,0.09,0.13,0.069,0.086,
   0.072,0.099,0.063,0.087,0.078,0.06,0.02,0.084,0.096,0.127,0.07,0.089,0.058,0.094,0.076,0.102,0.065,0.083,0.091,0.069,
   0.087,0.062,0.095,0.074,0.03,0.081,0.098,0.067,0.025,0.079,0.092,0.06,0.086,0.073,0.1,0.066,0.089,0.077,0.058,0.094,
   0.071,0.09,0.064,0.103,0.077,0.085,0.061,0.125,0.035,0.082,0.095,0.068,0.088,0.074,0.099,0.063,0.09,0.078,0.122,0.07,
   0.03,0.083,0.096,0.069,0.087,0.06,0.093,0.076,0.104,0.066,0.089,0.072,0.098,0.061,0.085,0.079,0.094,0.067,0.027,0.025,
   0.04,0.084,0.07,0.097,0.062,0.09,0.075,0.105,0.068,0.086,0.059,0.093,0.078,0.1,0.065,0.03,0.082,0.091,0.069,0.095,
   0.074,0.088,0.061,0.099,0.08,0.067,0.094,0.072,0.087,0.06,0.097,0.076,0.083,0.065,0.1,0.026,0.07,0.092,0.079,0.064,
   0.091,0.073,0.098,0.062,0.085,0.077,0.104,0.068,0.128,0.081,0.06,0.095,0.071,0.089,0.066,0.1,0.075,0.086,0.063,0.128],
  [0.085,0.069,0.097,0.076,0.062,0.09,0.081,0.104,0.067,0.093,0.038,0.079,0.088,0.06,0.096,0.073,0.085,0.107,0.07,0.082,
   0.094,0.064,0.087,0.078,0.1,0.061,0.09,0.072,0.083,0.098,0.066,0.086,0.075,0.102,0.063,0.091,0.07,0.084,0.096,0.068,
   0.079,0.045,0.092,0.067,0.085,0.074,0.099,0.062,0.088,0.077,0.106,0.065,0.081,0.04,0.093,0.07,0.087,0.1,0.064,0.078,
   0.09,0.071,0.097,0.06,0.083,0.075,0.035,0.092,0.068,0.086,0.101,0.063,0.079,0.094,0.072,0.088,0.059,0.083,0.097,0.074,
   0.066,0.091,0.078,0.103,0.045,0.07,0.087,0.062,0.038,0.095,0.074,0.089,0.064,0.098,0.08,0.069,0.093,0.076,0.085,0.061,
   0.096,0.073,0.088,0.067,0.099,0.062,0.084,0.077,0.05,0.091,0.068,0.102,0.074,0.087,0.06,0.094,0.079,0.083,0.07,0.097,
   0.045,0.092,0.066,0.085,0.075,0.1,0.063,0.089,0.071,0.096,0.078,0.06,0.087,0.093,0.069,0.082,0.074,0.099,0.035,0.04,
   0.055,0.076,0.095,0.064,0.088,0.072,0.1,0.061,0.084,0.079,0.097,0.066,0.09,0.073,0.085,0.038,0.093,0.068,0.082,0.101,
   0.067,0.094,0.078,0.086,0.06,0.099,0.073,0.088,0.065,0.092,0.076,0.083,0.104,0.069,0.087,0.04,0.095,0.062,0.084,0.078,
   0.099,0.066,0.089,0.075,0.093,0.061,0.086,0.072,0.097,0.064,0.101,0.078,0.083,0.07,0.095,0.063,0.088,0.076,0.092,0.084],
  [0.072,0.087,0.095,0.063,0.08,0.099,0.068,0.091,0.076,0.084,0.06,0.093,0.07,0.088,0.102,0.066,0.079,0.094,0.073,0.086,
   0.098,0.075,0.064,0.089,0.083,0.07,0.096,0.078,0.15,0.092,0.067,0.085,0.1,0.071,0.09,0.062,0.081,0.097,0.074,0.088,
   0.065,0.048,0.087,0.079,0.093,0.06,0.084,0.101,0.072,0.089,0.069,0.095,0.077,0.05,0.083,0.126,0.074,0.091,0.066,0.098,
   0.081,0.063,0.09,0.076,0.099,0.07,0.04,0.086,0.073,0.095,0.062,0.088,0.078,0.1,0.067,0.092,0.08,0.071,0.094,0.064,
   0.087,0.074,0.096,0.061,0.05,0.089,0.078,0.093,0.03,0.084,0.066,0.099,0.075,0.082,0.07,0.095,0.063,0.088,0.079,0.091,
   0.068,0.094,0.08,0.086,0.063,0.097,0.075,0.091,0.055,0.072,0.089,0.077,0.103,0.065,0.084,0.092,0.07,0.081,0.096,0.074,
   0.05,0.087,0.072,0.094,0.066,0.09,0.079,0.098,0.064,0.085,0.093,0.071,0.08,0.1,0.068,0.087,0.075,0.092,0.022,0.03,
   0.048,0.091,0.077,0.085,0.063,0.096,0.072,0.089,0.081,0.067,0.094,0.078,0.086,0.101,0.07,0.033,0.088,0.074,0.092,0.065,
   0.083,0.071,0.098,0.076,0.09,0.062,0.087,0.079,0.095,0.068,0.084,0.1,0.073,0.089,0.066,0.035,0.092,0.077,0.085,0.07,
   0.094,0.08,0.067,0.09,0.076,0.099,0.064,0.087,0.125,0.072,0.095,0.083,0.069,0.091,0.078,0.086,0.063,0.097,0.074,0.088],
  [0.09,0.076,0.083,0.098,0.065,0.087,0.073,0.094,0.079,0.062,0.05,0.088,0.097,0.071,0.084,0.066,0.092,0.078,0.086,0.101,
   0.074,0.09,0.068,0.085,0.096,0.079,0.062,0.093,0.088,0.072,0.1,0.067,0.083,0.091,0.076,0.087,0.095,0.064,0.081,0.09,
   0.086,0.052,0.078,0.093,0.07,0.088,0.066,0.095,0.081,0.074,0.09,0.063,0.085,0.055,0.079,0.097,0.068,0.089,0.074,0.083,
   0.066,0.093,0.079,0.085,0.071,0.098,0.05,0.077,0.089,0.064,0.092,0.081,0.073,0.087,0.095,0.069,0.084,0.076,0.099,0.07,
   0.092,0.068,0.084,0.077,0.055,0.096,0.065,0.088,0.04,0.073,0.091,0.08,0.087,0.063,0.094,0.076,0.082,0.07,0.097,0.085,
   0.078,0.086,0.07,0.093,0.081,0.067,0.097,0.074,0.06,0.088,0.079,0.092,0.065,0.084,0.1,0.072,0.087,0.063,0.09,0.081,
   0.055,0.071,0.094,0.08,0.088,0.065,0.083,0.076,0.097,0.07,0.086,0.091,0.068,0.079,0.094,0.073,0.085,0.066,0.05,0.055,
   0.06,0.089,0.073,0.081,0.095,0.069,0.086,0.077,0.093,0.064,0.084,0.09,0.072,0.087,0.079,0.045,0.07,0.096,0.078,0.083,
   0.088,0.065,0.082,0.093,0.074,0.086,0.069,0.091,0.078,0.097,0.063,0.085,0.074,0.092,0.081,0.042,0.087,0.071,0.094,0.067,
   0.08,0.093,0.071,0.086,0.064,0.097,0.079,0.083,0.09,0.068,0.087,0.076,0.101,0.066,0.089,0.074,0.092,0.07,0.084,0.078]
];

// ---- tau ----
const tauKdeCurves = [
  [[45,1.3],[60,1.65],[80,2.7],[100,4.35],[120,5.95],[150,8.0],[180,9.2],[200,9.05],[230,8.1],[260,7.6],[300,6.1],[350,5.0],[400,3.8],[450,2.3],[500,1.5],[550,0.97],[600,0.65],[700,0.35],[800,0.16],[900,0.08]],
  [[50,1.5],[80,3.0],[100,4.35],[140,7.7],[170,8.65],[200,9.2],[230,9.2],[260,8.0],[300,6.2],[350,4.6],[400,3.5],[430,2.6],[470,2.2],[500,1.8],[550,0.97],[600,0.65],[700,0.35],[800,0.16],[900,0.08]],
  [[45,1.8],[70,3.8],[100,5.7],[120,7.3],[150,8.8],[180,9.3],[200,9.5],[230,8.8],[260,7.7],[300,5.8],[350,4.2],[400,3.0],[450,1.8],[500,1.1],[550,0.84],[600,0.62],[700,0.38],[800,0.16],[900,0.08],[930,0.05]],
  [[50,0.7],[70,1.1],[100,3.5],[130,6.5],[160,8.2],[200,10],[230,9.5],[260,8.0],[300,6.0],[350,4.9],[400,3.7],[450,2.3],[500,1.5],[600,0.65],[700,0.35],[800,0.16],[900,0.08],[1000,0.03],[1075,0.05]]
];
// every 10th draw, four chains
const tauTrace = [
  [260,180,820,310,150,240,390,210,800,170,290,130,220,350,180,410,250,160,330,200,
   150,280,420,190,360,240,130,300,510,220,170,340,260,450,190,380,230,160,290,540,
   810,250,180,330,470,210,910,300,160,390,260,190,520,280,150,340,230,410,180,300,
   270,200,360,845,230,170,310,420,190,280,350,150,865,260,210,330,760,240,180,290,
   220,160,310,780,60,760,140,250,190,300,120,210,380,170,270,230,150,330,200,260,
   310,190,420,240,750,280,160,350,220,880,170,260,885,300,200,380,830,230,290,180,
   260,340,190,450,220,300,170,390,250,200,330,180,280,420,160,310,230,360,200,270,
   300,190,840,260,835,350,220,410,180,290,480,240,170,370,260,310,200,440,230,330,
   860,300,420,830,250,380,190,470,860,280,350,210,520,390,240,330,180,290,420,260,
   230,750,310,190,370,250,420,200,760,330,180,280,360,150,290,240,330,190,270,220],
  [340,130,250,460,180,300,110,380,220,150,290,470,200,130,360,240,520,170,280,110,
   300,420,160,240,560,190,330,120,260,410,180,290,140,370,230,460,160,300,210,120,
   390,220,150,340,260,180,480,230,130,310,200,400,150,270,610,190,330,120,280,220,
   160,310,420,200,140,350,240,480,170,260,380,130,300,210,150,290,420,190,260,140,
   330,200,120,280,90,220,350,170,120,300,210,150,260,390,190,130,320,230,170,270,
   210,360,150,290,180,420,250,130,340,200,270,160,480,220,140,310,250,170,390,200,
   150,280,350,190,420,230,140,330,260,170,460,210,300,130,280,200,380,150,250,310,
   420,200,290,160,350,520,230,150,390,260,180,310,220,450,170,270,200,140,360,240,
   340,190,460,260,150,390,220,530,180,290,240,150,380,270,200,440,190,130,310,230,
   180,350,270,420,200,150,470,230,320,160,280,210,350,140,300,230,180,390,250,160],
  [250,140,710,230,170,390,260,120,320,210,450,160,290,130,350,220,180,410,240,150,
   300,190,420,150,260,330,120,360,220,840,310,170,280,450,200,130,340,240,380,160,
   220,350,140,290,200,430,170,310,120,260,190,380,230,140,320,270,180,420,200,150,
   330,150,260,210,440,180,300,130,360,230,170,280,400,150,250,320,190,130,290,220,
   150,300,240,180,370,120,210,330,160,270,190,420,230,140,310,260,160,350,210,130,
   280,190,380,160,250,310,140,360,700,200,290,170,420,240,130,330,210,270,160,390,
   200,320,150,270,410,180,250,130,340,220,170,290,380,150,230,310,140,260,200,350,
   170,300,230,140,390,250,180,330,150,280,220,420,160,260,200,340,130,290,240,180,
   310,200,150,350,230,290,160,410,190,270,140,320,240,170,380,220,150,300,260,190,
   270,150,340,210,180,310,250,140,390,220,170,290,130,330,240,200,360,160,280,210],
  [180,300,130,250,390,160,280,220,140,350,200,260,130,310,190,420,150,270,230,170,
   390,160,240,300,140,220,360,180,270,130,320,200,410,150,260,190,340,130,280,220,
   150,290,200,360,170,250,130,310,220,400,160,280,190,340,140,230,300,170,260,190,
   320,180,240,140,290,210,380,160,250,300,140,220,350,190,270,130,310,200,240,170,
   290,150,230,340,170,280,120,210,310,160,250,190,370,140,260,200,320,150,230,280,
   160,310,200,250,140,330,220,180,290,150,270,210,360,170,240,300,140,260,190,320,
   230,150,290,200,340,170,260,130,310,220,190,350,160,280,210,140,300,230,180,270,
   330,200,250,160,300,140,270,210,380,170,240,190,320,150,290,230,170,340,210,260,
   180,290,140,320,210,260,150,350,190,280,220,170,1075,300,240,160,330,200,260,150,
   290,180,350,220,150,310,240,170,330,200,270,140,300,230,190,260,160,310,220,280]
];
const chainStyles = ['solid', 'dashed', 'dotted', 'dashdot'];

// ---- styling ----
const FONT = '"Liberation Sans Narrow", "DejaVu Sans Condensed", sans-serif';
const COLORS = {
  blue: '#5a7db6', purple: '#a06cae', red: '#b85f6b',
  teal: '#1f8a96', green: '#3e8c61', olive: '#8b7b3a'
};
const DASH = { solid: 'solid', dashed: [4, 2], dotted: [1, 1.6], dashdot: [5, 2, 1, 2] };
const ROW_TOP = [35.5, 233, 428, 625];
const ROW_H = 138.5;
const COL_LEFT = [15, 627];
const COL_W = 559;

const fmt = d => v => (v < 0 ? '\u2212' : '') + Math.abs(v).toFixed(d);

function xAx(gi, min, max, ticks, digits) {
  return {
    type: 'value', gridIndex: gi, min: min, max: max,
    axisLine: { show: true, onZero: false, lineStyle: { color: '#000', width: 1 } },
    axisTick: { show: true, length: 3.5, lineStyle: { color: '#000' }, customValues: ticks },
    axisLabel: { customValues: ticks, formatter: fmt(digits), fontFamily: FONT, fontSize: 12, color: '#222', margin: 5 },
    splitLine: { show: false }
  };
}
function yAx(gi, min, max, ticks, digits) {
  const show = !!ticks;
  return {
    type: 'value', gridIndex: gi, min: min, max: max,
    axisLine: { show: true, onZero: false, lineStyle: { color: '#000', width: 1 } },
    axisTick: show ? { show: true, length: 3.5, lineStyle: { color: '#000' }, customValues: ticks } : { show: false },
    axisLabel: show ? { customValues: ticks, formatter: fmt(digits), fontFamily: FONT, fontSize: 12, color: '#222', margin: 5 } : { show: false },
    splitLine: { show: false }
  };
}

function kdeSeries(gi, pts, color, style, width) {
  return {
    type: 'line', xAxisIndex: gi, yAxisIndex: gi, data: pts,
    showSymbol: false, smooth: 0.35, smoothMonotone: 'x', silent: true,
    lineStyle: { color: COLORS[color], width: width || 1.2, type: DASH[style] }
  };
}
function traceSeries(gi, vals, step, color, style, opacity, width) {
  return {
    type: 'line', xAxisIndex: gi, yAxisIndex: gi,
    data: vals.map((v, i) => [i * step, v]),
    showSymbol: false, silent: true,
    lineStyle: { color: COLORS[color], width: width, type: DASH[style], opacity: opacity }
  };
}

const grids = [], titles = [];
ROW_TOP.forEach((top, r) => {
  COL_LEFT.forEach(left => {
    grids.push({ left: left, top: top, width: COL_W, height: ROW_H, show: true, borderColor: '#000', borderWidth: 1, backgroundColor: 'transparent' });
    titles.push({
      text: varNames[r], left: left + COL_W / 2, top: top - 25, textAlign: 'center',
      textStyle: { fontFamily: FONT, fontSize: 15, fontWeight: 'normal', color: '#222', lineHeight: 16 }
    });
  });
});

const xAxes = [
  xAx(0, -0.061, 0.982, muKdeTicks, 1),
  xAx(1, 0, 1999, drawTicks, 0),
  xAx(2, -0.9, 1.11, rhoKdeTicks, 2),
  xAx(3, 0, 1999, drawTicks, 0),
  xAx(4, 0.0113, 0.1587, sigmaKdeTicks, 2),
  xAx(5, 0, 1999, drawTicks, 0),
  xAx(6, -6, 1126, tauKdeTicks, 0),
  xAx(7, 0, 1999, drawTicks, 0)
];
const yAxes = [
  yAx(0, -0.55, 10.85, null),
  yAx(1, -0.051, 0.995, muTraceTicks, 1),
  yAx(2, -0.55, 10.55, null),
  yAx(3, -0.88, 1.10, rhoTraceTicks, 1),
  yAx(4, -0.68, 10.48, null),
  yAx(5, 0.0115, 0.16, sigmaTraceTicks, 2),
  yAx(6, -0.54, 10.46, null),
  yAx(7, -5, 1126, tauTraceTicks, 0)
];

const series = [];
muKdeCurves.forEach((c, i) => series.push(kdeSeries(0, c, muKdeColors[i], muKdeStyles[i], 1.4)));
muTrace.forEach((t, i) => {
  series.push(traceSeries(1, t, 25, muTraceColors[i], muTraceStyles[i], 0.45, 2.1));
  series.push(traceSeries(1, muTrace2[i], 25, muTraceColors[i], 'solid', 0.45, 2.1));
});
rhoKdeCurves.forEach((c, i) => series.push(kdeSeries(2, c, rhoKdeColors[i], rhoKdeStyles[i])));
rhoTrace.forEach((t, i) => series.push(traceSeries(3, t, 20, rhoTraceColors[i], rhoTraceStyles[i], 0.4, 1.7)));
sigmaKdeCurves.forEach((c, i) => series.push(kdeSeries(4, c, 'blue', chainStyles[i])));
sigmaTrace.forEach((t, i) => series.push(traceSeries(5, t, 10, 'blue', chainStyles[i], 0.42, 1.2)));
tauKdeCurves.forEach((c, i) => series.push(kdeSeries(6, c, 'blue', chainStyles[i])));
tauTrace.forEach((t, i) => series.push(traceSeries(7, t, 10, 'blue', chainStyles[i], 0.42, 1.2)));

const chart = echarts.init(document.getElementById('chart'), null, { renderer: 'canvas' });
chart.setOption({
  backgroundColor: '#fff',
  animation: false,
  title: titles,
  grid: grids,
  xAxis: xAxes,
  yAxis: yAxes,
  series: series
});
</script>
</body>
</html>
